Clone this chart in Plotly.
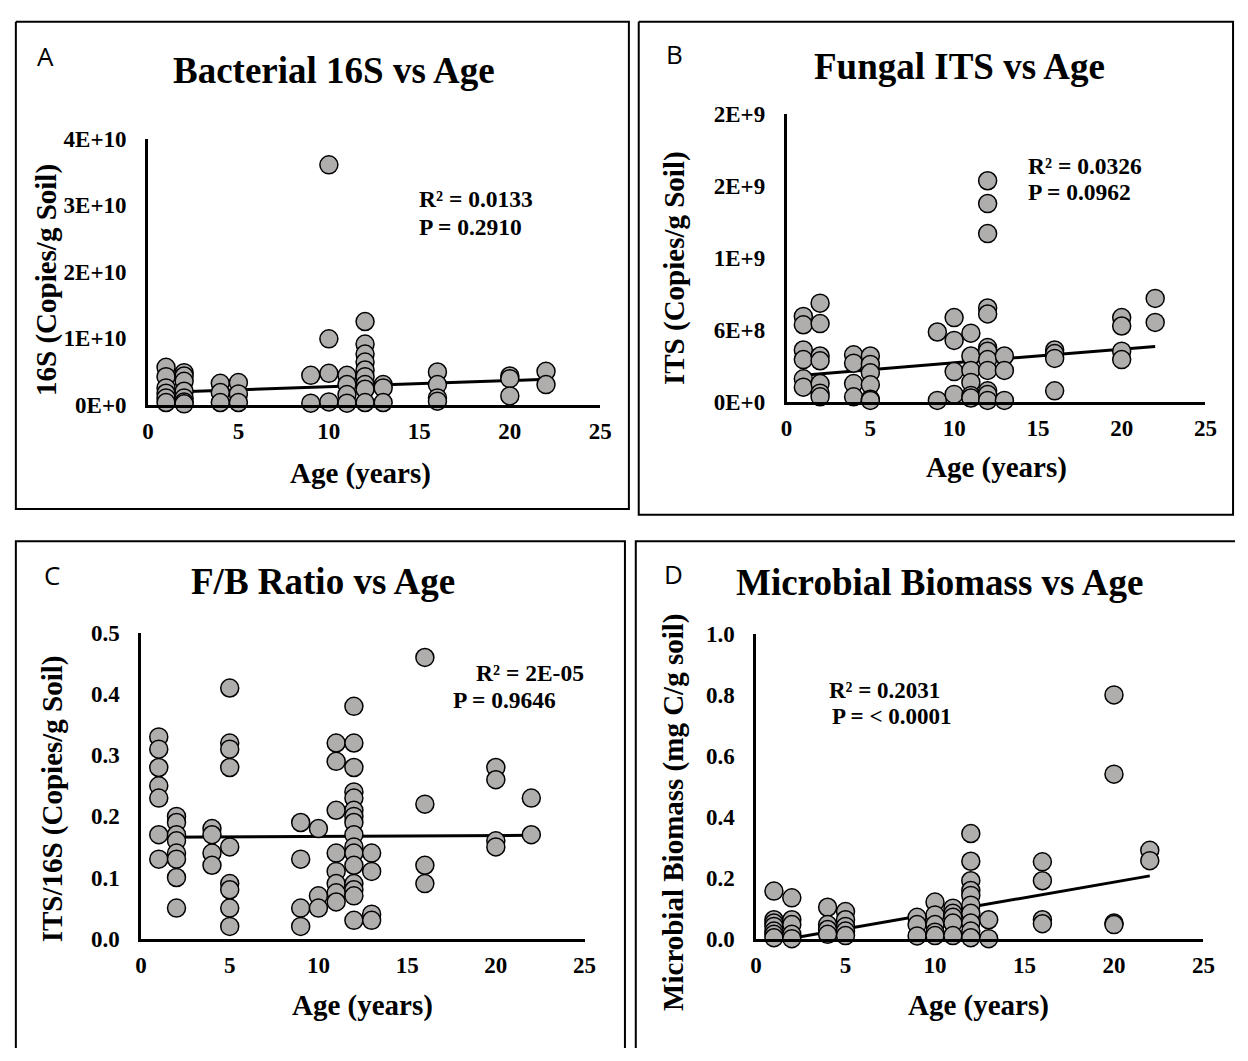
import plotly.graph_objects as go

W, H = 1248, 1061

# ---------------- Panel A: Bacterial 16S ----------------
age_a = [1, 1, 1, 1, 1, 1,
         2, 2, 2, 2, 2, 2, 2,
         4, 4, 4,
         5, 5, 5,
         9, 9,
         10, 10, 10, 10,
         11, 11, 11, 11,
         12, 12, 12, 12, 12, 12, 12, 12, 12,
         13, 13, 13,
         16, 16, 16, 16,
         20, 20, 20,
         22, 22]
copies_16s = [5.6e9, 4.2e9, 2.5e9, 1.7e9, 1.0e9, 0.3e9,
              4.8e9, 4.3e9, 3.5e9, 2.0e9, 1.0e9, 0.4e9, 0.1e9,
              3.2e9, 1.8e9, 0.3e9,
              3.3e9, 1.6e9, 0.3e9,
              4.4e9, 0.2e9,
              3.61e10, 9.9e9, 4.7e9, 0.4e9,
              4.4e9, 3.0e9, 1.5e9, 0.2e9,
              1.25e10, 9.1e9, 7.6e9, 6.4e9, 5.2e9, 4.2e9, 3.0e9, 2.3e9, 0.3e9,
              3.0e9, 2.5e9, 0.3e9,
              4.9e9, 3.0e9, 1.0e9, 0.5e9,
              4.3e9, 3.9e9, 1.3e9,
              5.0e9, 3.0e9]
trend_a_x = [1, 22]
trend_a_y = [1.84e9, 3.79e9]
ticks_a = [0, 1e10, 2e10, 3e10, 4e10]
ticklabels_a = ["0E+0", "1E+10", "2E+10", "3E+10", "4E+10"]

# ---------------- Panel B: Fungal ITS ----------------
age_b = [1, 1, 1, 1, 1, 1,
         2, 2, 2, 2, 2, 2, 2,
         4, 4, 4, 4,
         5, 5, 5, 5, 5, 5,
         9, 9,
         10, 10, 10, 10,
         11, 11, 11, 11, 11, 11,
         12, 12, 12, 12, 12, 12, 12, 12, 12, 12, 12, 12,
         13, 13, 13,
         16, 16, 16, 16,
         20, 20, 20, 20,
         22, 22]
copies_its = [0.71e9, 0.64e9, 0.43e9, 0.35e9, 0.19e9, 0.12e9,
              0.82e9, 0.65e9, 0.38e9, 0.34e9, 0.15e9, 0.07e9, 0.04e9,
              0.39e9, 0.32e9, 0.15e9, 0.04e9,
              0.38e9, 0.31e9, 0.24e9, 0.14e9, 0.02e9, 0.01e9,
              0.58e9, 0.01e9,
              0.70e9, 0.51e9, 0.25e9, 0.06e9,
              0.57e9, 0.38e9, 0.26e9, 0.16e9, 0.05e9, 0.03e9,
              1.84e9, 1.65e9, 1.40e9, 0.78e9, 0.73e9, 0.45e9, 0.42e9, 0.35e9, 0.26e9, 0.09e9, 0.06e9, 0.01e9,
              0.38e9, 0.26e9, 0.01e9,
              0.43e9, 0.40e9, 0.36e9, 0.09e9,
              0.70e9, 0.63e9, 0.42e9, 0.35e9,
              0.86e9, 0.66e9]
trend_b_x = [1, 22]
trend_b_y = [0.22e9, 0.46e9]
ticks_b = [0, 6e8, 1.2e9, 1.8e9, 2.4e9]
ticklabels_b = ["0E+0", "6E+8", "1E+9", "2E+9", "2E+9"]

# ---------------- Panel C: F/B ratio ----------------
age_c = [1, 1, 1, 1, 1, 1, 1,
         2, 2, 2, 2, 2, 2, 2, 2,
         4, 4, 4, 4,
         5, 5, 5, 5, 5, 5, 5, 5, 5,
         9, 9, 9, 9,
         10, 10, 10,
         11, 11, 11, 11, 11, 11, 11, 11,
         12, 12, 12, 12, 12, 12, 12, 12, 12, 12, 12, 12, 12, 12, 12, 12,
         13, 13, 13, 13,
         16, 16, 16, 16,
         20, 20, 20, 20,
         22, 22]
ratio_fb = [0.33, 0.31, 0.28, 0.25, 0.23, 0.17, 0.13,
            0.20, 0.19, 0.17, 0.16, 0.14, 0.13, 0.10, 0.05,
            0.18, 0.17, 0.14, 0.12,
            0.41, 0.32, 0.31, 0.28, 0.15, 0.09, 0.08, 0.05, 0.02,
            0.19, 0.13, 0.05, 0.02,
            0.18, 0.07, 0.05,
            0.32, 0.29, 0.21, 0.14, 0.11, 0.09, 0.075, 0.06,
            0.38, 0.32, 0.28, 0.24, 0.23, 0.21, 0.20, 0.19, 0.17, 0.15, 0.14, 0.12, 0.09, 0.08, 0.07, 0.03,
            0.14, 0.11, 0.04, 0.03,
            0.46, 0.22, 0.12, 0.09,
            0.28, 0.26, 0.16, 0.15,
            0.23, 0.17]
trend_c_x = [1, 22]
trend_c_y = [0.166, 0.169]
ticks_c = [0, 0.1, 0.2, 0.3, 0.4, 0.5]
ticklabels_c = ["0.0", "0.1", "0.2", "0.3", "0.4", "0.5"]

# ---------------- Panel D: Microbial biomass ----------------
age_d = [1, 1, 1, 1, 1, 1, 1,
         2, 2, 2, 2, 2,
         4, 4, 4, 4,
         5, 5, 5, 5, 5,
         9, 9, 9,
         10, 10, 10, 10, 10,
         11, 11, 11, 11, 11,
         12, 12, 12, 12, 12, 12, 12, 12, 12, 12,
         13, 13,
         16, 16, 16, 16,
         20, 20, 20, 20,
         22, 22]
biomass = [0.156, 0.062, 0.051, 0.040, 0.025, 0.014, 0.003,
           0.134, 0.062, 0.046, 0.014, 0.0,
           0.103, 0.046, 0.030, 0.014,
           0.089, 0.062, 0.040, 0.025, 0.010,
           0.070, 0.046, 0.009,
           0.120, 0.078, 0.046, 0.021, 0.010,
           0.100, 0.083, 0.070, 0.051, 0.010,
           0.345, 0.254, 0.190, 0.158, 0.142, 0.110, 0.083, 0.051, 0.025, 0.003,
           0.062, 0.0,
           0.252, 0.190, 0.062, 0.049,
           0.800, 0.540, 0.051, 0.046,
           0.290, 0.256]
trend_d_x = [1, 22]
trend_d_y = [-0.009, 0.206]
ticks_d = [0, 0.2, 0.4, 0.6, 0.8, 1.0]
ticklabels_d = ["0.0", "0.2", "0.4", "0.6", "0.8", "1.0"]


def px(x):
    return x / W


def py(y):
    return 1 - y / H


SERIF = "Liberation Serif"
MARKER = dict(size=18, color="#b0adad", line=dict(color="black", width=1.5))

panels = [
    # (ages, values, trend x, trend y, ticks, labels, ymax, x-domain px, y-domain px)
    (age_a, copies_16s, trend_a_x, trend_a_y, ticks_a, ticklabels_a, 4e10, (144, 603), (130, 402)),
    (age_b, copies_its, trend_b_x, trend_b_y, ticks_b, ticklabels_b, 2.4e9, (792, 1217), (104, 399)),
    (age_c, ratio_fb, trend_c_x, trend_c_y, ticks_c, ticklabels_c, 0.5, (137, 587), (636, 949)),
    (age_d, biomass, trend_d_x, trend_d_y, ticks_d, ticklabels_d, 1.0, (761, 1215), (637, 949)),
]

fig = go.Figure()
layout_axes = {}
for i, (ax_x, ax_y, tx, ty, tv, tt, ymax, xd, yd) in enumerate(panels, start=1):
    sfx = "" if i == 1 else str(i)
    xref, yref = "x" + sfx, "y" + sfx
    fig.add_trace(go.Scatter(x=tx, y=ty, mode="lines", xaxis=xref, yaxis=yref,
                             line=dict(color="black", width=3), showlegend=False,
                             hoverinfo="skip"))
    fig.add_trace(go.Scatter(x=ax_x, y=ax_y, mode="markers", xaxis=xref, yaxis=yref,
                             marker=MARKER, cliponaxis=False, showlegend=False))
    layout_axes["xaxis" + sfx] = dict(
        domain=[px(xd[0]), px(xd[1])], range=[0, 25], anchor=yref,
        tickvals=[0, 5, 10, 15, 20, 25], ticktext=["0", "5", "10", "15", "20", "25"],
        showline=True, linecolor="black", linewidth=2.5, ticks="", showgrid=False,
        zeroline=False, ticklabelstandoff=4,
        tickfont=dict(family=SERIF, size=23, color="black", weight="bold"))
    layout_axes["yaxis" + sfx] = dict(
        domain=[py(yd[1]), py(yd[0])], range=[0, ymax], anchor=xref,
        tickvals=tv, ticktext=tt,
        showline=True, linecolor="black", linewidth=2.5, ticks="", showgrid=False,
        zeroline=False, ticklabelstandoff=14,
        tickfont=dict(family=SERIF, size=23, color="black", weight="bold"))

fig.update_layout(**layout_axes)

annotations = []


def txt(text, x, y, size, xanchor="center", angle=0, family=SERIF, weight="bold"):
    annotations.append(dict(text=text, x=px(x), y=py(y), xref="paper", yref="paper",
                            xanchor=xanchor, yanchor="middle", showarrow=False, textangle=angle,
                            font=dict(family=family, size=size, color="black", weight=weight)))


# panel letters
for letter, lx, ly in [("A", 40, 45), ("B", 678, 43), ("C", 47, 577), ("D", 677, 576)]:
    txt(letter, lx, ly, 26, family="Open Sans", weight="normal")

# titles
txt("Bacterial 16S vs Age", 333, 60, 37)
txt("Fungal ITS vs Age", 967, 56, 37)
txt("F/B Ratio vs Age", 322, 583, 37)
txt("Microbial Biomass vs Age", 947, 584, 37)

# x-axis titles
txt("Age (years)", 360, 473, 29)
txt("Age (years)", 1005, 467, 29)
txt("Age (years)", 362, 1017, 29)
txt("Age (years)", 987, 1017, 29)

# y-axis titles
txt("16S (Copies/g Soil)", 41, 274, 29, angle=-90)
txt("ITS (Copies/g Soil)", 679, 262, 29, angle=-90)
txt("ITS/16S (Copies/g Soil)", 47, 806, 29, angle=-90)
txt("Microbial Biomass (mg C/g soil)", 677, 820, 29, angle=-90)

# statistics
txt("R² = 0.0133", 417, 192, 23.5, xanchor="left")
txt("P = 0.2910", 417, 220, 23.5, xanchor="left")
txt("R² = 0.0326", 1035, 158, 23.5, xanchor="left")
txt("P = 0.0962", 1035, 184, 23.5, xanchor="left")
txt("R² = 2E-05", 588, 677, 23.5, xanchor="right")
txt("P = 0.9646", 452, 705, 23.5, xanchor="left")
txt("R² = 0.2031", 833, 695, 23, xanchor="left")
txt("P = < 0.0001", 836, 722, 23, xanchor="left")

shapes = []
frame_paths = [
    [(10, 10), (632, 10), (632, 509), (10, 509), (10, 10)],
    [(642, 10), (1245, 10), (1245, 515), (642, 515), (642, 10)],
    [(10, 1061), (10, 542), (628, 542), (628, 1061)],
    [(639, 1061), (639, 542), (1247, 542)],
]
for pts in frame_paths:
    path = "M " + " L ".join(f"{px(x):.5f},{py(y):.5f}" for x, y in pts)
    shapes.append(dict(type="path", path=path, xref="paper", yref="paper",
                       line=dict(color="black", width=2)))

fig.update_layout(width=W, height=H, margin=dict(l=0, r=0, t=0, b=0),
                  paper_bgcolor="white", plot_bgcolor="white",
                  annotations=annotations, shapes=shapes, showlegend=False)

fig.write_html("out.html")
